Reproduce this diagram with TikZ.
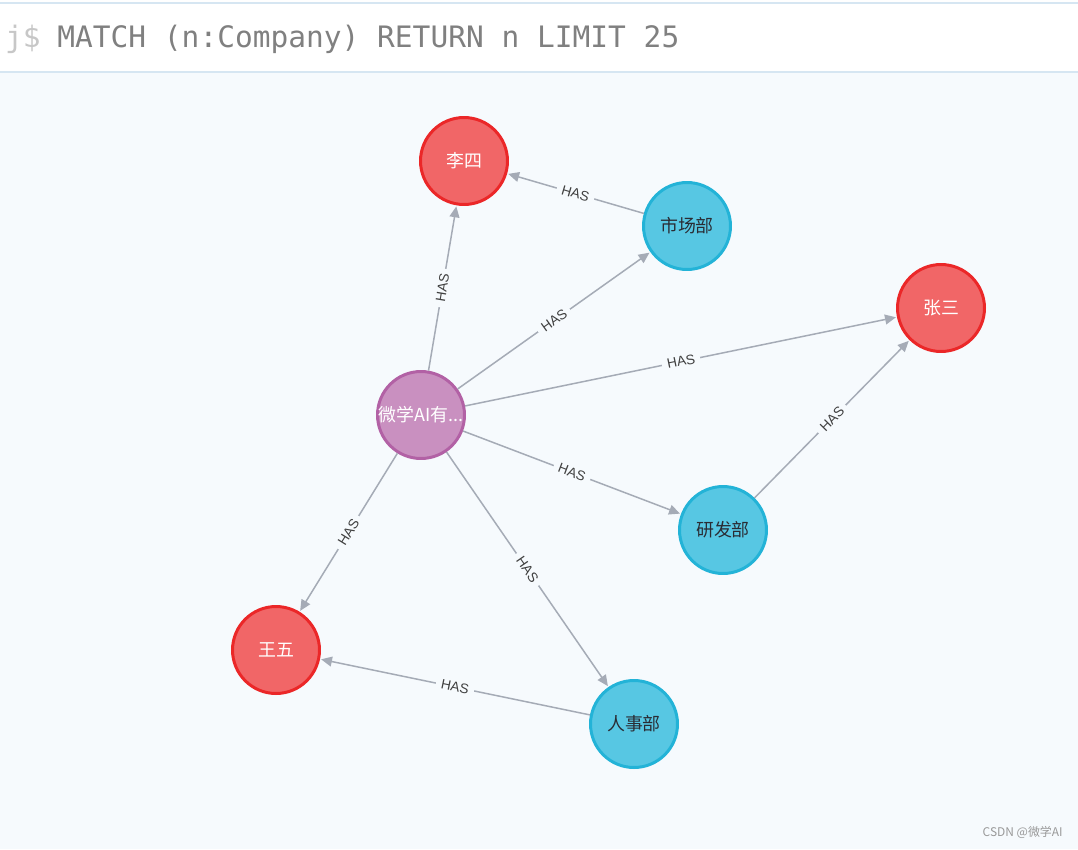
\documentclass[tikz,border=0pt]{standalone}
\usepackage{fontspec}
\setmainfont{Noto Sans CJK SC}
\newfontfamily\hasfont{Liberation Sans}
\newfontfamily\queryfont{DejaVu Sans Mono}
\usepackage{xcolor}
\usetikzlibrary{arrows.meta}
\definecolor{pagebg}{HTML}{F6FAFD}
\definecolor{headline}{HTML}{D6E6F2}
\definecolor{personfill}{HTML}{F16667}
\definecolor{personline}{HTML}{EB2728}
\definecolor{deptfill}{HTML}{57C7E3}
\definecolor{deptline}{HTML}{23B3D7}
\definecolor{companyfill}{HTML}{C990C0}
\definecolor{companyline}{HTML}{B261A5}
\definecolor{relline}{HTML}{A5ABB6}
\definecolor{reltext}{HTML}{404040}
\definecolor{darktext}{HTML}{2A2C34}
\tikzset{
  graphnode/.style={circle,minimum size=1.74cm,inner sep=0pt,line width=1.7pt,
    font=\fontsize{10.2}{12}\selectfont},
  person/.style={graphnode,fill=personfill,draw=personline,text=white},
  dept/.style={graphnode,fill=deptfill,draw=deptline,text=darktext},
  company/.style={graphnode,fill=companyfill,draw=companyline,text=white},
  rel/.style={draw=relline,line width=0.85pt,shorten >=0.6pt,
    -{Triangle[length=6.2pt,width=5.6pt]}},
  rellabel/.style={sloped,fill=pagebg,inner xsep=3pt,inner ysep=1pt,text=reltext,
    font=\hasfont\fontsize{7.8}{9}\selectfont}
}
\begin{document}
\begin{tikzpicture}[x=0.02cm,y=-0.02cm]
\useasboundingbox (0,0) rectangle (1078,849);
%% background and query bar
\fill[pagebg] (0,0) rectangle (1078,849);
\fill[white] (0,0) rectangle (1078,72);
\draw[headline,line width=0.6pt] (0,3) -- (1078,3);
\draw[headline,line width=0.6pt] (0,72) -- (1078,72);
\node[anchor=base east,inner sep=0pt,text=black!22,font=\queryfont\fontsize{16.8}{20}\selectfont] (prompt) at (41,47) {j\$};
\node[anchor=base west,inner sep=0pt,text=black!50,font=\queryfont\fontsize{16.8}{20}\selectfont] (query) at (57,47) {MATCH (n:Company) RETURN n LIMIT 25};
%% nodes
\node[person] (lisi) at (464,161) {李四};
\node[dept] (market) at (687,226) {市场部};
\node[person] (zhangsan) at (941,308) {张三};
\node[company] (company) at (421,415) {微学AI有...};
\node[dept] (rnd) at (723,530) {研发部};
\node[person] (wangwu) at (276,650) {王五};
\node[dept] (hr) at (634,724) {人事部};
%% relationships
\foreach \from/\to in {company/lisi, company/market, company/zhangsan, company/rnd,
    company/wangwu, company/hr, market/lisi, rnd/zhangsan, hr/wangwu}
    \draw[rel] (\from) -- node[rellabel] {HAS} (\to);
%% watermark
\node[anchor=base east,inner sep=0pt,text=black!40,font=\fontsize{6.8}{8}\selectfont] (mark) at (1063,836) {CSDN @微学AI};
\end{tikzpicture}
\end{document}
